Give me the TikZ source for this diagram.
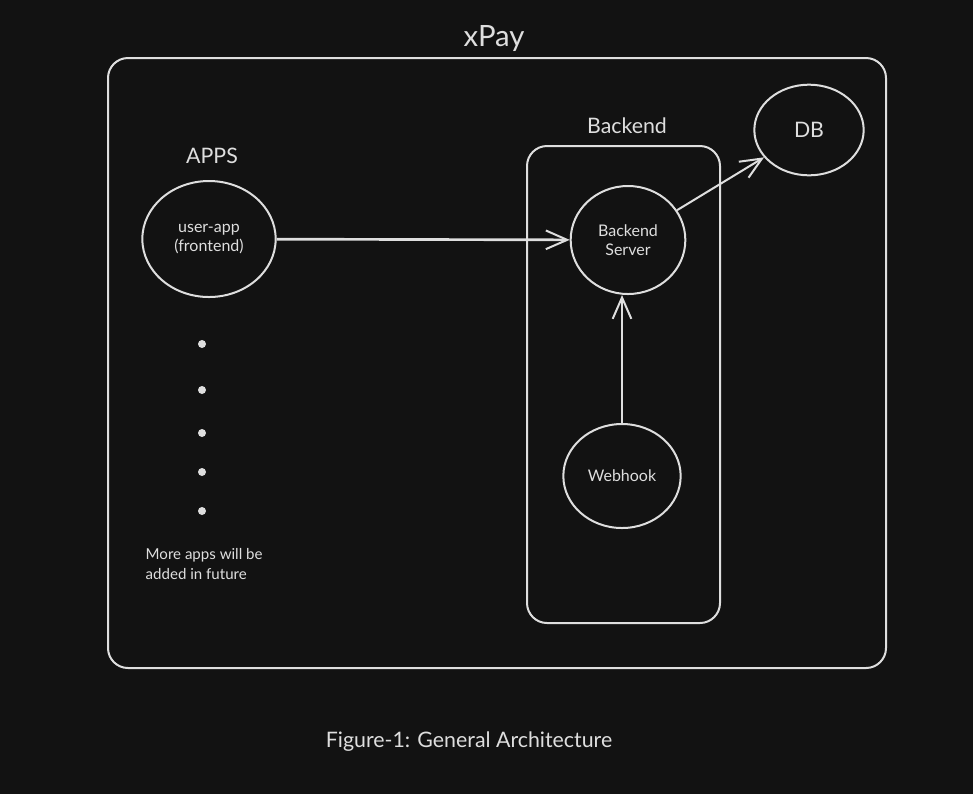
\documentclass[tikz,border=0pt]{standalone}
\usepackage{fontspec}
\setmainfont{Lato}
\usetikzlibrary{arrows.meta,shapes.geometric}
\definecolor{bg}{HTML}{121212}
\definecolor{ink}{HTML}{DEDEDE}

\begin{document}
\begin{tikzpicture}
[x = 0.75pt, y = -0.75pt,
 frame/.style = {draw = ink, line width = 1.5pt, rounded corners = 15pt},
 blob/.style = {ellipse, draw = ink, line width = 1.5pt, text = ink, align = center, inner sep = 0pt, font = \fontsize{12}{14}\selectfont},
 heading/.style = {text = ink, font = \fontsize{16}{18}\selectfont},
 note/.style = {text = ink, align = left, font = \fontsize{11.3}{15}\selectfont},
 link/.style = {draw = ink, line width = 1.5pt, -{Straight Barb[length = 16pt, width = 14pt, line width = 1.5pt]}}
 ]
\fill [bg] (0,0) rectangle (973,794);
\useasboundingbox (0,0) rectangle (973,794);
% outer frame and backend box
\draw [frame] (108,58) rectangle (886,668);
\draw [frame] (527,146) rectangle (720,623);
\node [heading, font = \fontsize{22}{24}\selectfont] (title) at (494,38) {xPay};
\node [heading] (appshead) at (212,156) {APPS};
\node [heading] (backhead) at (627,126) {Backend};
% services
\node [blob, minimum width = 100pt, minimum height = 87pt] (user) at (209,239) {user-app\\(frontend)};
\node [blob, minimum width = 86pt, minimum height = 81pt] (server) at (628,240) {Backend\\Server};
\node [blob, minimum width = 82pt, minimum height = 68pt, font = \fontsize{16}{18}\selectfont] (db) at (809,130) {DB};
\node [blob, minimum width = 88pt, minimum height = 78pt] (webhook) at (622,476) {Webhook};
% more apps
\foreach \y in {344,390,433,472,511}
  \fill [ink] (202,\y) circle (3pt);
\node [note, anchor = north west] (more) at (141,544) {More apps will be\\added in future};
% links
\draw [link, line width = 2pt] (user) -- (server);
\draw [link] (server) -- (db);
\draw [link] (webhook.north) -- (webhook.north |- server.south);
\node [heading, font = \fontsize{16}{18}\selectfont] (caption) at (469,742) {Figure-1: General Architecture};
\end{tikzpicture}
\end{document}
